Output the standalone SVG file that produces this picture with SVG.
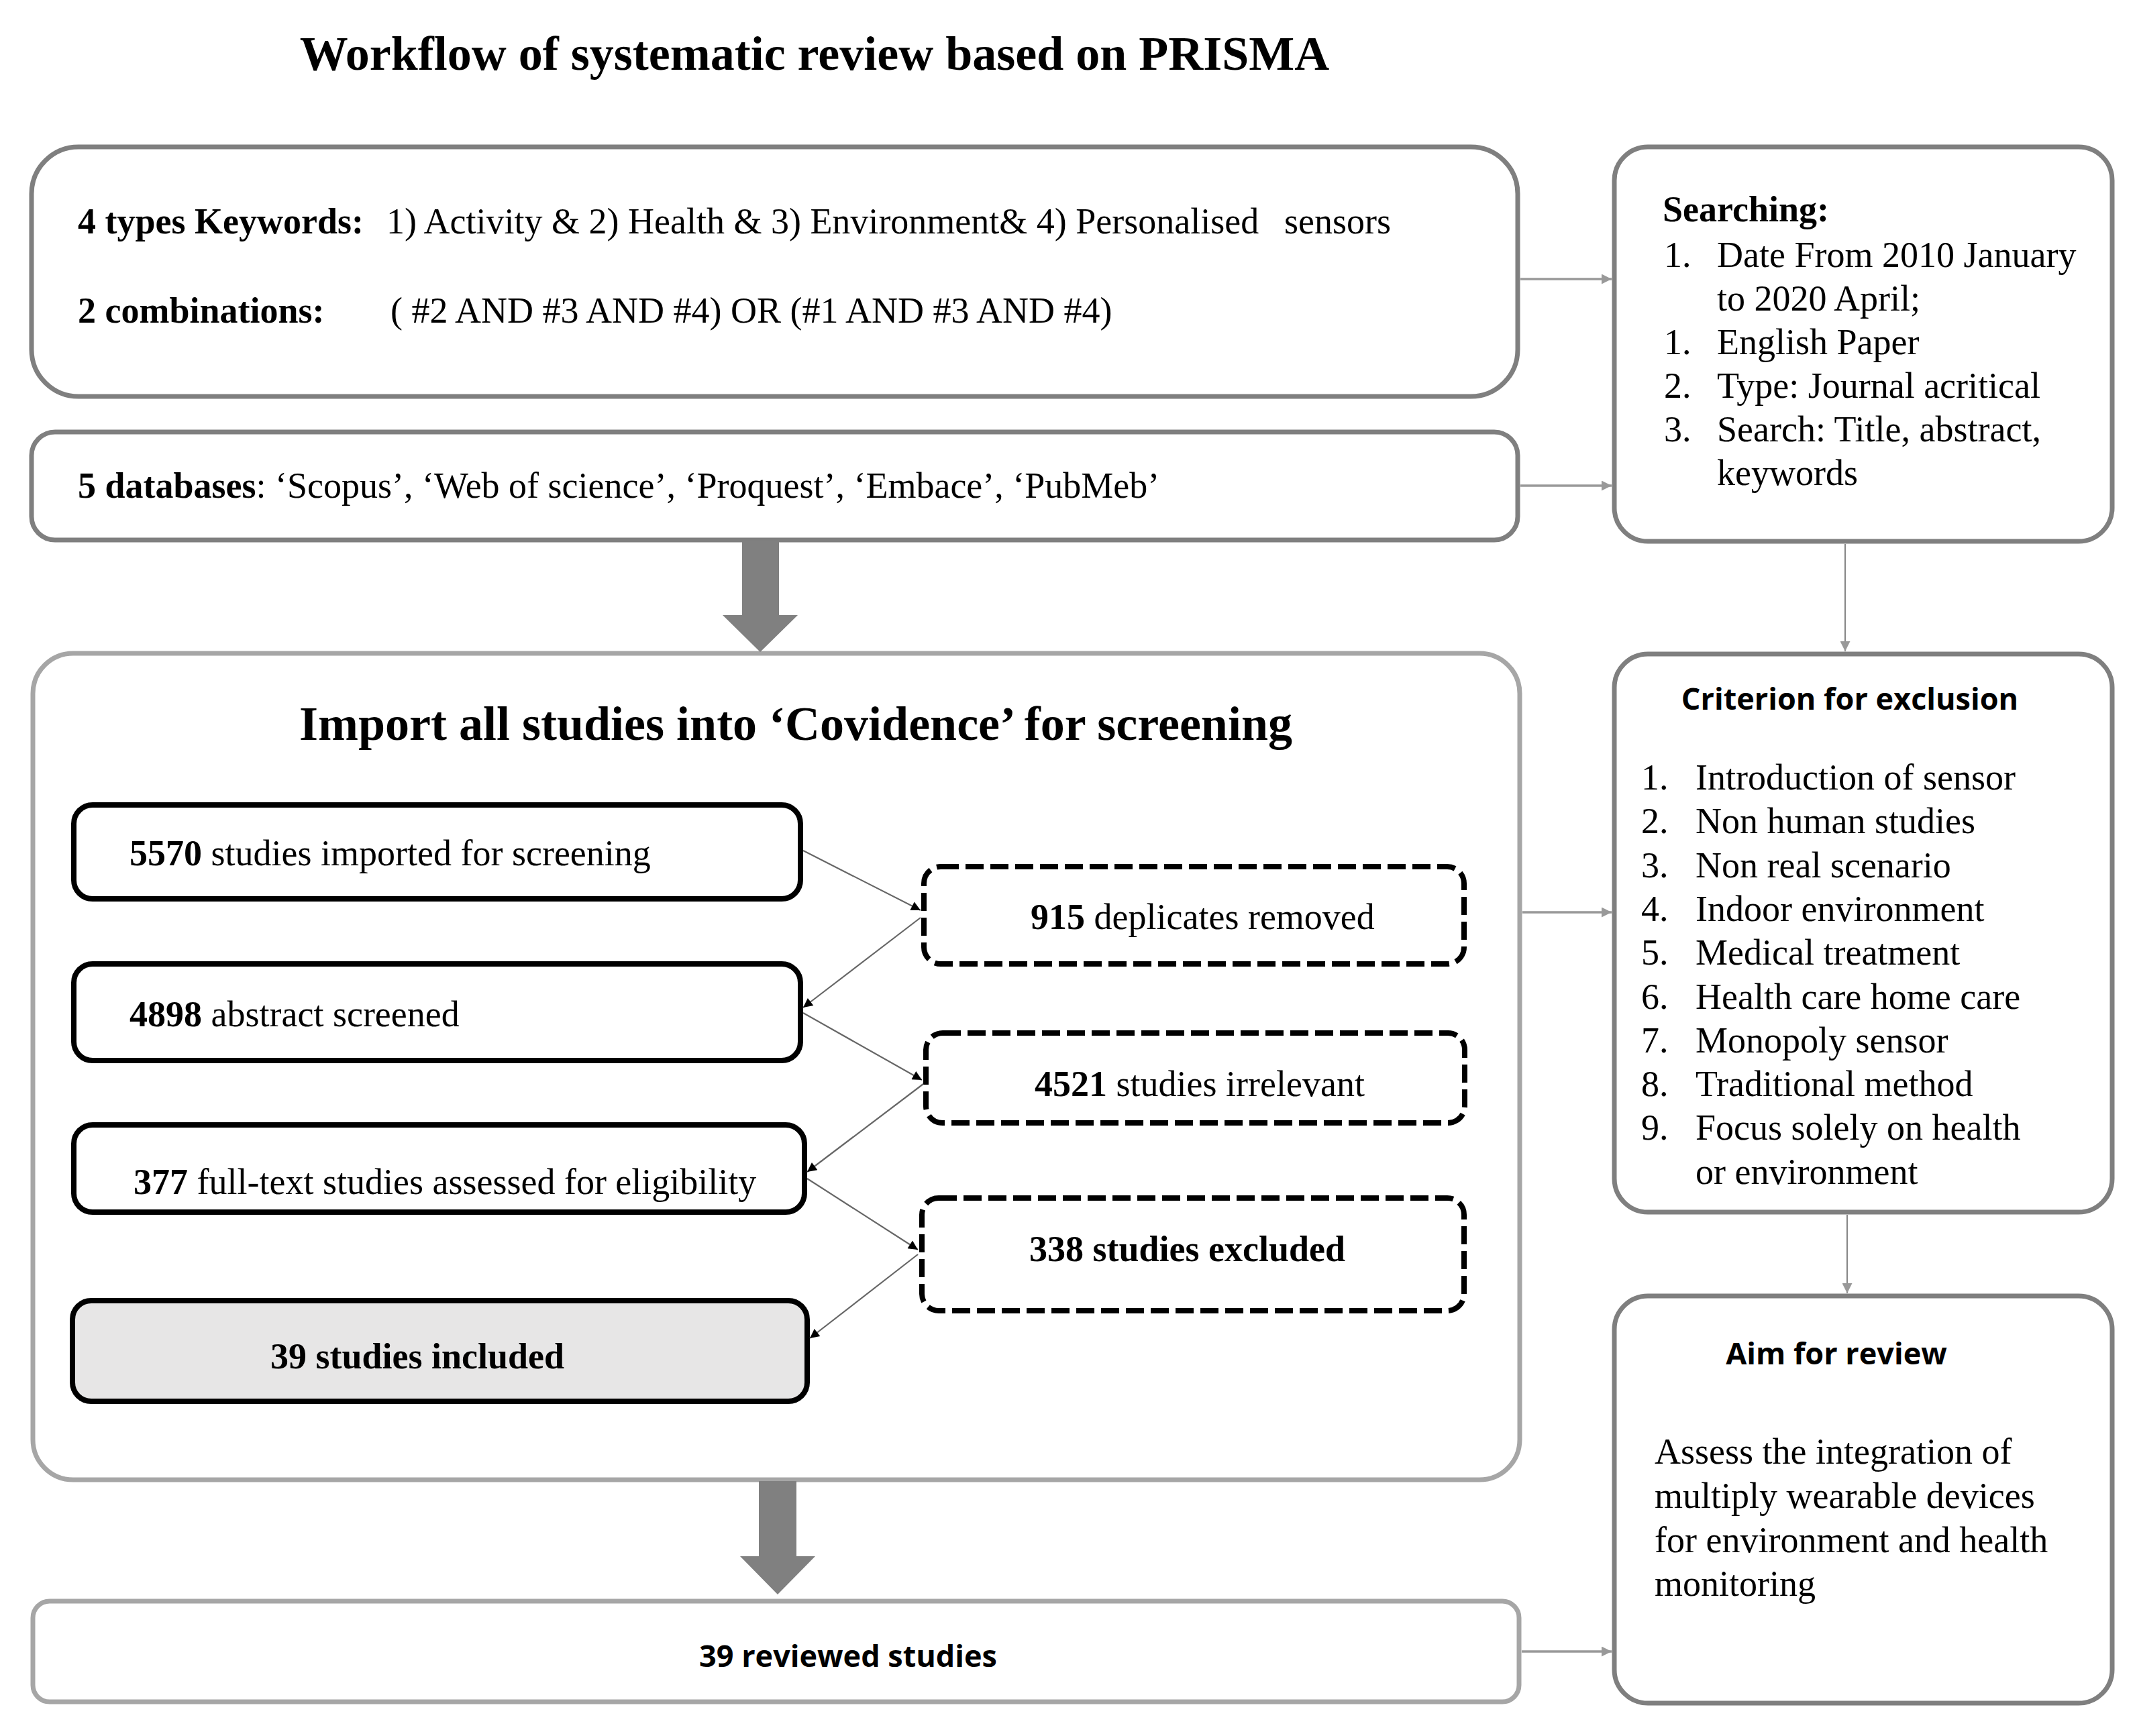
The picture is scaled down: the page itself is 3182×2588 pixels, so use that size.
<svg xmlns="http://www.w3.org/2000/svg" width="3182" height="2588" viewBox="0 0 3182 2588">
<style>
.serif{font-family:"Liberation Serif","Times New Roman",serif;fill:#000}
.sans{font-family:"Open Sans","Liberation Sans",Arial,sans-serif;font-weight:bold;fill:#000}
.t54{font-size:54px}
.b{font-weight:bold}
.outer{fill:#fff;stroke:#7f7f7f;stroke-width:7}
.light{fill:#fff;stroke:#a6a6a6;stroke-width:7}
.solid{fill:#fff;stroke:#000;stroke-width:8}
.dash{fill:#fff;stroke:#000;stroke-width:8;stroke-dasharray:27 10}
.thin{fill:none;stroke:#666;stroke-width:2.2}
.gray{fill:none;stroke:#999;stroke-width:3.5}
.big{fill:#808080}
</style>
<defs>
<marker id="ah" viewBox="0 0 10 10" refX="10" refY="5" markerWidth="18" markerHeight="14" markerUnits="userSpaceOnUse" orient="auto">
<path d="M0,0 L10,5 L0,10 z" fill="#000"/>
</marker>
<marker id="ag" viewBox="0 0 10 10" refX="10" refY="5" markerWidth="18" markerHeight="15" markerUnits="userSpaceOnUse" orient="auto">
<path d="M0,0 L10,5 L0,10 z" fill="#999"/>
</marker>
</defs>

<text id="title" class="serif b" font-size="72" x="1214" y="104" text-anchor="middle">Workflow of systematic review based on PRISMA</text>

<g id="keywords">
<rect class="outer" x="47" y="219" width="2215" height="372" rx="70"/>
<text class="serif t54" x="116" y="348"><tspan class="b">4 types Keywords:</tspan><tspan x="576">1) Activity &amp; 2) Health &amp; 3) Environment&amp; 4) Personalised</tspan><tspan x="1914">sensors</tspan></text>
<text class="serif t54" x="116" y="481"><tspan class="b">2 combinations:</tspan><tspan x="582">( #2 AND #3 AND #4) OR (#1 AND #3 AND #4)</tspan></text>
</g>

<g id="databases">
<rect class="outer" x="47" y="644" width="2215" height="161" rx="35"/>
<text class="serif t54" x="116" y="742"><tspan class="b">5 databases</tspan>: ‘Scopus’, ‘Web of science’, ‘Proquest’, ‘Embace’, ‘PubMeb’</text>
</g>

<g id="searching">
<rect class="outer" x="2406" y="219" width="742" height="588" rx="50"/>
<text class="serif t54 b" x="2478" y="330">Searching:</text>
<text class="serif t54" x="2480" y="398">1.</text><text class="serif t54" x="2559" y="398">Date From 2010 January</text>
<text class="serif t54" x="2559" y="463">to 2020 April;</text>
<text class="serif t54" x="2480" y="528">1.</text><text class="serif t54" x="2559" y="528">English Paper</text>
<text class="serif t54" x="2480" y="593">2.</text><text class="serif t54" x="2559" y="593">Type: Journal acritical</text>
<text class="serif t54" x="2480" y="658">3.</text><text class="serif t54" x="2559" y="658">Search: Title, abstract,</text>
<text class="serif t54" x="2559" y="723">keywords</text>
</g>

<g id="covidence">
<rect class="light" x="49" y="974" width="2216" height="1232" rx="60"/>
<text class="serif b" font-size="72" x="1186" y="1103" text-anchor="middle">Import all studies into ‘Covidence’ for screening</text>
</g>

<g id="imported">
<rect class="solid" x="110" y="1200" width="1083" height="140" rx="28"/>
<text class="serif t54" x="193" y="1290"><tspan class="b">5570</tspan> studies imported for screening</text>
</g>
<g id="abstract">
<rect class="solid" x="110" y="1437" width="1083" height="144" rx="28"/>
<text class="serif t54" x="193" y="1530"><tspan class="b">4898</tspan> abstract screened</text>
</g>
<g id="fulltext">
<rect class="solid" x="110" y="1677" width="1089" height="130" rx="28"/>
<text class="serif t54" x="199" y="1780"><tspan class="b">377</tspan> full-text studies assessed for eligibility</text>
</g>
<g id="included">
<rect class="solid" x="108" y="1939" width="1095" height="150" rx="28" fill="#e7e6e6" style="fill:#e7e6e6"/>
<text class="serif t54 b" x="622" y="2040" text-anchor="middle">39 studies included</text>
</g>

<g id="duplicates">
<rect class="dash" x="1377" y="1292" width="805" height="145" rx="25"/>
<text class="serif t54" x="1536" y="1385"><tspan class="b">915</tspan> deplicates removed</text>
</g>
<g id="irrelevant">
<rect class="dash" x="1380" y="1540" width="803" height="134" rx="25"/>
<text class="serif t54" x="1542" y="1634"><tspan class="b">4521</tspan> studies irrelevant</text>
</g>
<g id="excluded">
<rect class="dash" x="1374" y="1786" width="808" height="168" rx="25"/>
<text class="serif t54 b" x="1534" y="1880">338 studies excluded</text>
</g>

<g id="criterion">
<rect class="outer" x="2406" y="975" width="742" height="832" rx="50"/>
<text class="sans" font-size="45" x="2757" y="1058" text-anchor="middle">Criterion for exclusion</text>
<g class="serif t54">
<text x="2446" y="1177">1.</text><text x="2527" y="1177">Introduction of sensor</text>
<text x="2446" y="1242">2.</text><text x="2527" y="1242">Non human studies</text>
<text x="2446" y="1308">3.</text><text x="2527" y="1308">Non real scenario</text>
<text x="2446" y="1373">4.</text><text x="2527" y="1373">Indoor environment</text>
<text x="2446" y="1438">5.</text><text x="2527" y="1438">Medical treatment</text>
<text x="2446" y="1504">6.</text><text x="2527" y="1504">Health care home care</text>
<text x="2446" y="1569">7.</text><text x="2527" y="1569">Monopoly sensor</text>
<text x="2446" y="1634">8.</text><text x="2527" y="1634">Traditional method</text>
<text x="2446" y="1699">9.</text><text x="2527" y="1699">Focus solely on health</text>
<text x="2527" y="1765">or environment</text>
</g>
</g>

<g id="aim">
<rect class="outer" x="2406" y="1932" width="742" height="607" rx="50"/>
<text class="sans" font-size="45" x="2737" y="2034" text-anchor="middle">Aim for review</text>
<g class="serif t54">
<text x="2466" y="2182">Assess the integration of</text>
<text x="2466" y="2248">multiply wearable devices</text>
<text x="2466" y="2314">for environment and health</text>
<text x="2466" y="2379">monitoring</text>
</g>
</g>

<g id="reviewed">
<rect class="light" x="49" y="2387" width="2215" height="150" rx="25"/>
<text class="sans" font-size="45" x="1264" y="2485" text-anchor="middle">39 reviewed studies</text>
</g>

<g id="connectors">
<polygon class="big" points="1106,806 1161,806 1161,917 1189,917 1133,972 1077,917 1106,917"/>
<polygon class="big" points="1131,2208 1187,2208 1187,2320 1215,2320 1159,2377 1103,2320 1131,2320"/>
<line class="gray" x1="2266" y1="416" x2="2402" y2="416" marker-end="url(#ag)"/>
<line class="gray" x1="2266" y1="724" x2="2402" y2="724" marker-end="url(#ag)"/>
<line class="gray" x1="2269" y1="1360" x2="2402" y2="1360" marker-end="url(#ag)"/>
<line class="gray" x1="2268" y1="2462" x2="2402" y2="2462" marker-end="url(#ag)"/>
<line class="thin" stroke="#888" x1="2750" y1="811" x2="2750" y2="971" style="stroke:#888" marker-end="url(#ag)"/>
<line class="thin" x1="2753" y1="1811" x2="2753" y2="1928" style="stroke:#888" marker-end="url(#ag)"/>
<line class="thin" x1="1197" y1="1268" x2="1372" y2="1357" marker-end="url(#ah)"/>
<line class="thin" x1="1372" y1="1368" x2="1197" y2="1502" marker-end="url(#ah)"/>
<line class="thin" x1="1197" y1="1510" x2="1374" y2="1610" marker-end="url(#ah)"/>
<line class="thin" x1="1376" y1="1616" x2="1203" y2="1747" marker-end="url(#ah)"/>
<line class="thin" x1="1203" y1="1757" x2="1368" y2="1863" marker-end="url(#ah)"/>
<line class="thin" x1="1368" y1="1870" x2="1207" y2="1995" marker-end="url(#ah)"/>
</g>
</svg>
